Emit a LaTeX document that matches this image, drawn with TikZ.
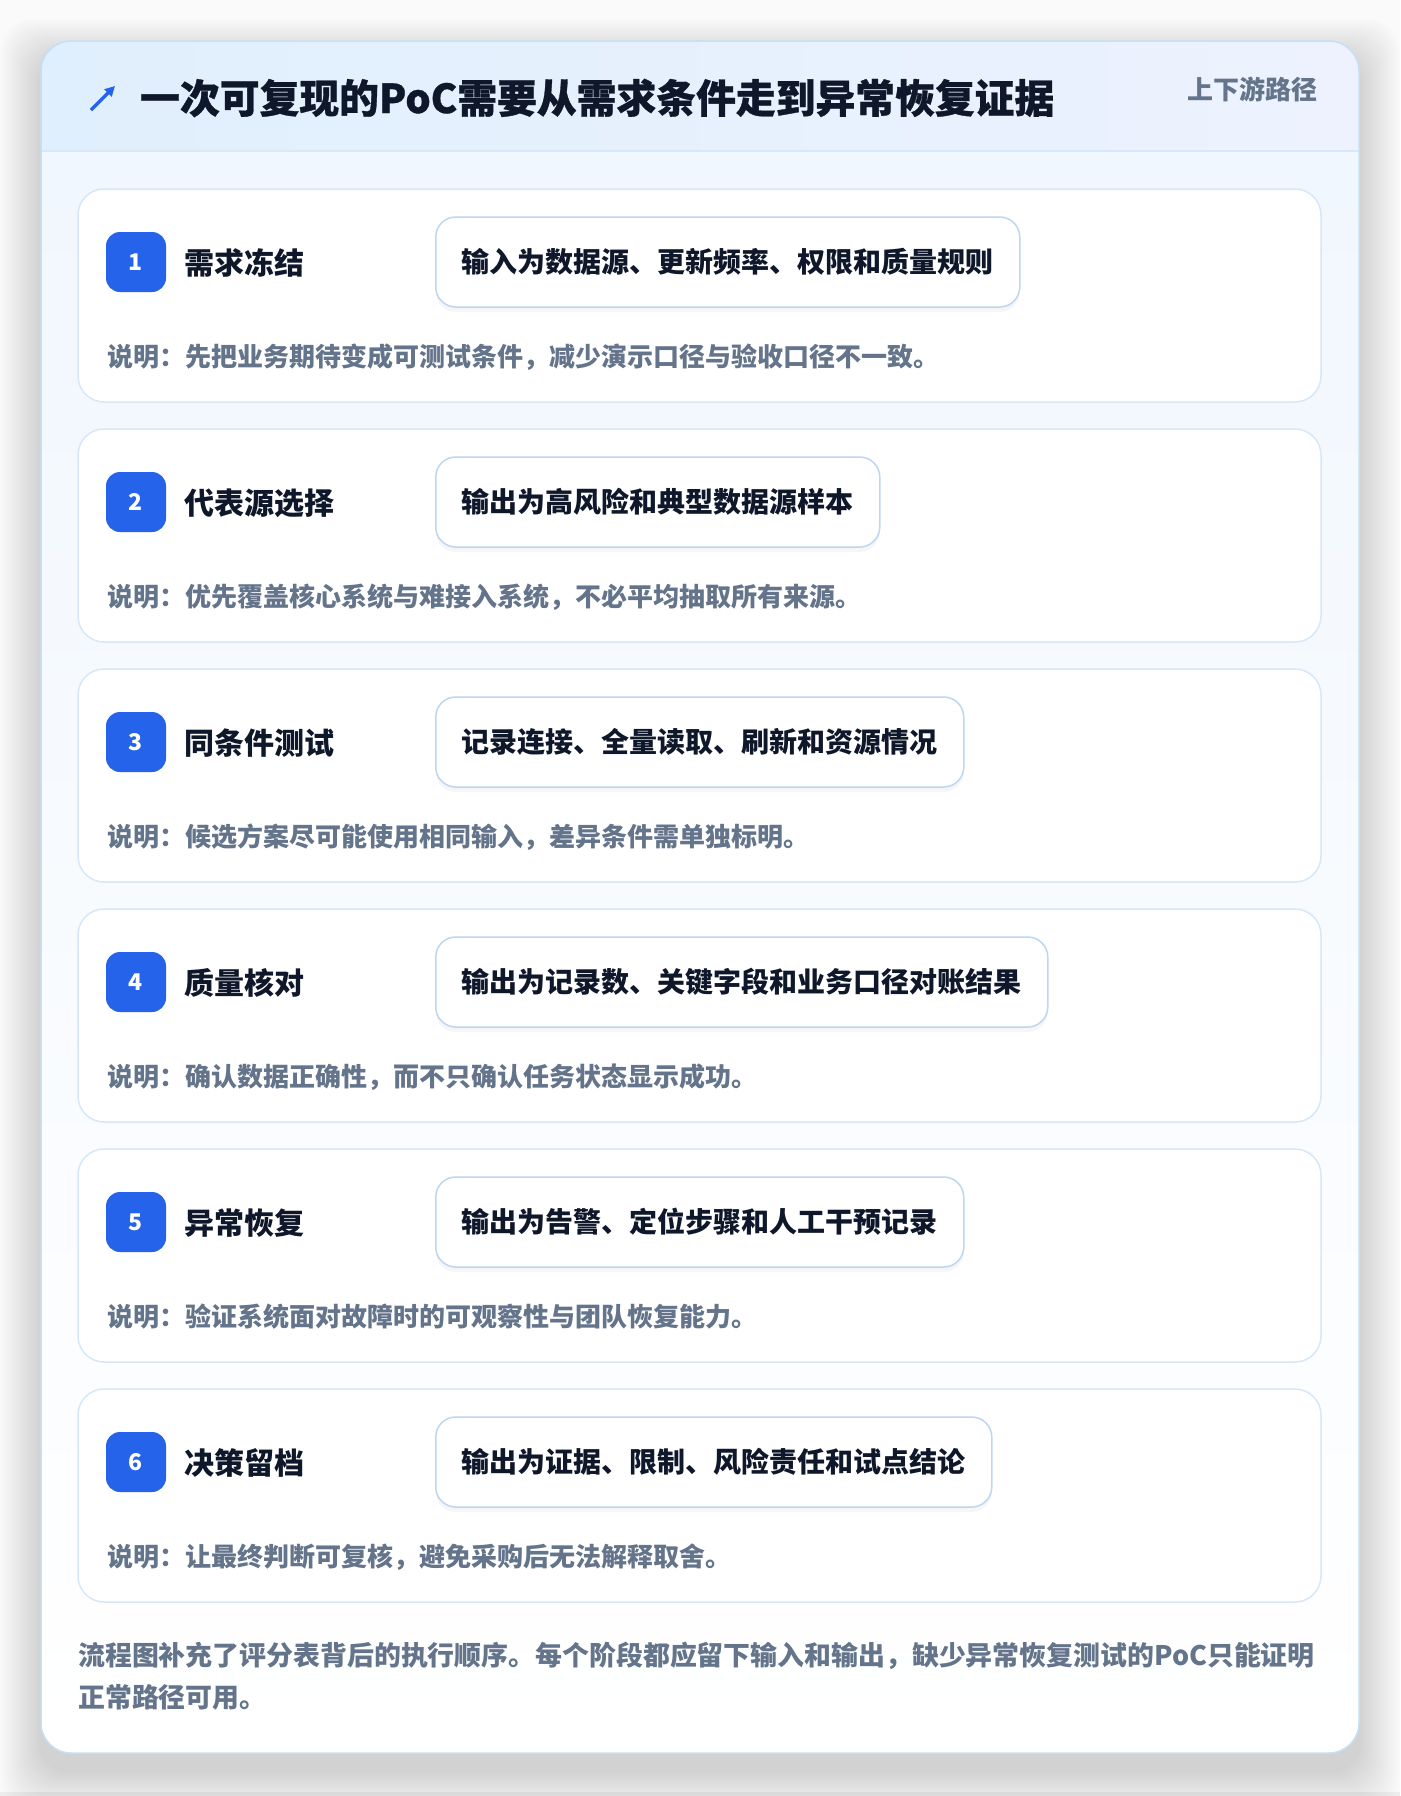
\documentclass[tikz,border=0pt]{standalone}
\usepackage{fontspec}
\setmainfont{Noto Sans CJK SC}
\newfontfamily\heavy{Noto Sans CJK SC}[BoldFeatures={FakeBold=0.8}]
\usepackage{tikz}
\usetikzlibrary{arrows.meta,shadows}

\definecolor{pagebg}{HTML}{FAFAFB}
\definecolor{cardline}{HTML}{C3E0F6}
\definecolor{headl}{HTML}{E0EFFD}
\definecolor{headr}{HTML}{EDF2FE}
\definecolor{headline}{HTML}{D6E8FA}
\definecolor{bodytop}{HTML}{F1F7FE}
\definecolor{boxline}{HTML}{D8E7F8}
\definecolor{pillline}{HTML}{BDD6F3}
\definecolor{badge}{HTML}{2563EB}
\definecolor{ink}{HTML}{0F172A}
\definecolor{mute}{HTML}{64748B}

\tikzset{
  stagebox/.style={draw=boxline, line width=1.5pt, fill=white, rounded corners=26pt},
  num/.style={fill=badge, rounded corners=14pt, minimum size=60pt, inner sep=0pt, text=white, font=\fontsize{23}{23}\selectfont\bfseries},
  stitle/.style={anchor=west, inner sep=0pt, text=ink, font=\fontsize{30}{36}\selectfont\bfseries},
  pill/.style={anchor=west, draw=pillline, line width=1.5pt, fill=white, rounded corners=20pt, minimum height=90pt, inner xsep=26pt, inner ysep=0pt, text=ink, font=\fontsize{28}{34}\selectfont\bfseries, drop shadow={shadow xshift=0pt, shadow yshift=-5pt, opacity=0.035, fill=black}},
  note/.style={anchor=west, inner sep=0pt, text=mute, font=\fontsize{26}{30}\selectfont\bfseries},
  icon/.style={draw=badge, line width=3.5pt, -{Triangle[length=10pt,width=10pt]}},
}

\begin{document}
\begin{tikzpicture}[x=1pt, y=-1pt]
\useasboundingbox (0,0) rectangle (1400,1796);
\fill[pagebg] (0,0) rectangle (1400,1796);
\fill[black!7] (0,1792) rectangle (1400,1796);

% card with soft shadow
\foreach \r in {2,4,...,40} {\fill[black, opacity=0.006, rounded corners=30pt] (41-\r,59-\r) rectangle (1359+\r,1771+\r);}
\begin{scope}
\clip[rounded corners=30pt] (41,41) rectangle (1359,1753);
\shade[top color=bodytop, bottom color=white] (41,151) rectangle (1359,1753);
\shade[left color=headl, right color=headr] (41,41) rectangle (1359,151);
\draw[headline, line width=1.5pt] (41,151) -- (1359,151);
\end{scope}
\draw[cardline, line width=1.5pt, rounded corners=30pt] (41,41) rectangle (1359,1753);

% header
\coordinate (a0) at (91,110); \coordinate (a1) at (115,86);
\draw[icon] (a0) -- (a1);
\node[anchor=west, inner sep=0pt, text=ink, font=\fontsize{39.8}{44}\selectfont\heavy\bfseries] (title) at (140,98) {一次可复现的PoC需要从需求条件走到异常恢复证据};
\node[anchor=east, inner sep=0pt, text=mute, font=\fontsize{26}{30}\selectfont\bfseries] (tag) at (1318,89) {上下游路径};

% stages
\draw[stagebox] (78,189) rectangle (1321,402);
\node[num] (n1) at (136,262) {1}; \node[stitle] (t1) at (184,263) {需求冻结};
\node[pill] (i1) at (435,262) {输入为数据源、更新频率、权限和质量规则};
\node[note] (d1) at (107,357) {说明：先把业务期待变成可测试条件，减少演示口径与验收口径不一致。};

\draw[stagebox] (78,429) rectangle (1321,642);
\node[num] (n2) at (136,502) {2}; \node[stitle] (t2) at (184,503) {代表源选择};
\node[pill] (i2) at (435,502) {输出为高风险和典型数据源样本};
\node[note] (d2) at (107,597) {说明：优先覆盖核心系统与难接入系统，不必平均抽取所有来源。};

\draw[stagebox] (78,669) rectangle (1321,882);
\node[num] (n3) at (136,742) {3}; \node[stitle] (t3) at (184,743) {同条件测试};
\node[pill] (i3) at (435,742) {记录连接、全量读取、刷新和资源情况};
\node[note] (d3) at (107,837) {说明：候选方案尽可能使用相同输入，差异条件需单独标明。};

\draw[stagebox] (78,909) rectangle (1321,1122);
\node[num] (n4) at (136,982) {4}; \node[stitle] (t4) at (184,983) {质量核对};
\node[pill] (i4) at (435,982) {输出为记录数、关键字段和业务口径对账结果};
\node[note] (d4) at (107,1077) {说明：确认数据正确性，而不只确认任务状态显示成功。};

\draw[stagebox] (78,1149) rectangle (1321,1362);
\node[num] (n5) at (136,1222) {5}; \node[stitle] (t5) at (184,1223) {异常恢复};
\node[pill] (i5) at (435,1222) {输出为告警、定位步骤和人工干预记录};
\node[note] (d5) at (107,1317) {说明：验证系统面对故障时的可观察性与团队恢复能力。};

\draw[stagebox] (78,1389) rectangle (1321,1602);
\node[num] (n6) at (136,1462) {6}; \node[stitle] (t6) at (184,1463) {决策留档};
\node[pill] (i6) at (435,1462) {输出为证据、限制、风险责任和试点结论};
\node[note] (d6) at (107,1557) {说明：让最终判断可复核，避免采购后无法解释取舍。};

% footer
\node[anchor=west, inner sep=0pt, align=left, text=mute, font=\fontsize{26.9}{42}\selectfont\bfseries] (foot) at (78,1676) {流程图补充了评分表背后的执行顺序。每个阶段都应留下输入和输出，缺少异常恢复测试的PoC只能证明\\正常路径可用。};
\end{tikzpicture}
\end{document}
